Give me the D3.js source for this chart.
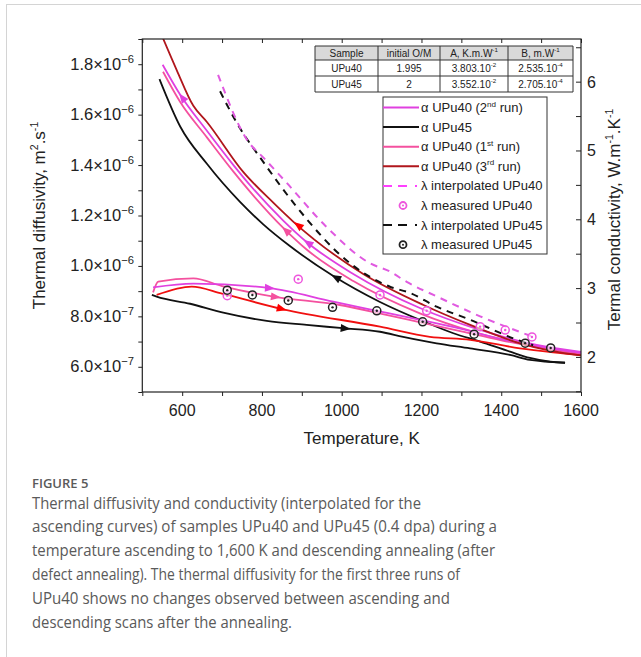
<!DOCTYPE html>
<html>
<head>
<meta charset="utf-8">
<script src="https://cdn.jsdelivr.net/npm/d3@7"></script>
<style>
  body { margin: 0; background: #fff; }
  svg { display: block; }
  .axis path, .axis line { stroke: #222; }
</style>
</head>
<body>
<svg id="chart" width="641" height="657"></svg>
<script>
// ---- data ----
// diffusivity branches [T (K), alpha (m2/s)]
var upu45Desc = [[543,17.41e-7],[595,15.53e-7],[662,14.05e-7],[745,12.54e-7],[804,11.64e-7],[870,10.79e-7],[979,9.6e-7],[1096,8.57e-7],[1205,7.8e-7],[1280,7.33e-7],[1347,7.0e-7],[1422,6.6e-7],[1472,6.35e-7],[1523,6.2e-7],[1560,6.16e-7]];
var upu45Asc = [[524,8.85e-7],[536,8.78e-7],[620,8.5e-7],[703,8.15e-7],[812,7.82e-7],[912,7.66e-7],[1003,7.53e-7],[1096,7.39e-7],[1154,7.19e-7],[1238,6.93e-7],[1322,6.73e-7],[1422,6.47e-7],[1472,6.27e-7],[1560,6.16e-7]];
var run3Desc = [[550,19.1e-7],[586,17.78e-7],[628,16.35e-7],[662,15.71e-7],[753,13.73e-7],[829,12.5e-7],[879,11.75e-7],[1054,9.68e-7],[1205,8.45e-7],[1322,7.66e-7],[1447,6.93e-7],[1590,6.47e-7],[1600,6.45e-7]];
var run3Asc = [[536,8.85e-7],[624,9.18e-7],[700,8.9e-7],[853,8.28e-7],[1096,7.59e-7],[1221,7.19e-7],[1322,7.07e-7],[1447,6.73e-7],[1590,6.47e-7],[1600,6.45e-7]];
var run2Desc = [[551,17.98e-7],[595,16.79e-7],[662,15.36e-7],[728,14.01e-7],[778,13.06e-7],[854,11.79e-7],[912,10.95e-7],[1029,9.68e-7],[1196,8.33e-7],[1339,7.5e-7],[1489,6.87e-7],[1600,6.59e-7]];
var run2Asc = [[527,9.15e-7],[628,9.3e-7],[820,9.12e-7],[979,8.58e-7],[1079,8.25e-7],[1200,7.85e-7],[1300,7.5e-7],[1400,7.1e-7],[1500,6.8e-7],[1600,6.55e-7]];
var run1Desc = [[552,17.7e-7],[595,16.5e-7],[662,15.1e-7],[728,13.75e-7],[778,12.8e-7],[854,11.5e-7],[912,10.65e-7],[1029,9.4e-7],[1196,8.12e-7],[1339,7.35e-7],[1489,6.8e-7],[1600,6.55e-7]];
var run1Asc = [[527,8.95e-7],[540,9.38e-7],[628,9.51e-7],[700,9.2e-7],[829,8.78e-7],[995,8.45e-7],[1100,8.1e-7],[1200,7.75e-7],[1300,7.4e-7],[1400,7.05e-7],[1500,6.75e-7],[1600,6.5e-7]];

// conductivity [T (K), lambda (W/m/K)]
var lamInterp40 = [[690,6.10],[762,5.16],[808,4.87],[862,4.53],[960,3.90],[1071,3.36],[1121,3.24],[1163,3.09],[1238,2.88],[1347,2.59],[1481,2.29]];
var lamInterp45 = [[695,5.86],[737,5.40],[805,4.82],[883,4.21],[1021,3.36],[1121,3.02],[1171,2.93],[1238,2.73],[1322,2.54],[1439,2.25],[1480,2.17]];
var lamMeas40 = [[713,2.89],[891,3.13],[1096,2.90],[1213,2.67],[1347,2.44],[1410,2.39],[1477,2.29]];
var lamMeas45 = [[713,2.97],[776,2.90],[866,2.82],[977,2.72],[1088,2.67],[1203,2.51],[1332,2.33],[1460,2.20],[1524,2.13]];

// tick values
var xTicks = d3.range(500, 1601, 100);
var xLabels = [600, 800, 1000, 1200, 1400, 1600];
var yLeftTicks = d3.range(5, 20).map(function(v){ return v*1e-7; });
var yLeftLabels = [6e-7, 8e-7, 1e-6, 1.2e-6, 1.4e-6, 1.6e-6, 1.8e-6];
var yRightTicks = d3.range(1.5, 6.6, 0.5);
var yRightLabels = [2, 3, 4, 5, 6];

// inset table
var tableHeader = ["Sample", "initial O/M", "A, K.m.W{-1}", "B, m.W{-1}"];
var tableRows = [["UPu40", "1.995", "3.803.10{-2}", "2.535.10{-4}"],
                 ["UPu45", "2", "3.552.10{-2}", "2.705.10{-4}"]];

var caption = [
  "Thermal diffusivity and conductivity (interpolated for the",
  "ascending curves) of samples UPu40 and UPu45 (0.4 dpa) during a",
  "temperature ascending to 1,600 K and descending annealing (after",
  "defect annealing). The thermal diffusivity for the first three runs of",
  "UPu40 shows no changes observed between ascending and",
  "descending scans after the annealing."
];
var captionWidths = [389, 465, 463, 428, 418, 260];

var cMag = "#e040e0", cPink = "#f4519f", cDark = "#b0161c", cRed = "#f01010", cBlack = "#111", cDash = "#e05ae0";

// ---- layout ----
var svg = d3.select("#chart");
var pLeft = 142.3, pRight = 581, pTop = 39, pBottom = 392;
var font = "'Liberation Sans', Arial, sans-serif";

var x = d3.scaleLinear().domain([500, 1600]).range([pLeft, pRight]);
var yL = d3.scaleLinear().domain([5e-7, 1.9e-6]).range([pBottom, pTop]);
var yR = d3.scaleLinear().domain([1.49, 6.62]).range([pBottom, pTop]);

// card border
svg.append("rect").attr("x", 6.5).attr("y", 4.5).attr("width", 700).attr("height", 700)
  .attr("fill", "none").attr("stroke", "#d4d4d4");

// text with {superscript} parts
function rich(sel, str, fs, k) {
  k = k || 0.62;
  var parts = str.split(/(\{[^}]*\})/).filter(function(s){ return s.length; });
  var shift = 0;
  parts.forEach(function(p) {
    if (p[0] === "{") {
      sel.append("tspan").attr("font-size", fs*k).attr("dy", -fs*0.42).text(p.slice(1, -1));
      shift = fs*0.42;
    } else {
      sel.append("tspan").attr("dy", shift).text(p);
      shift = 0;
    }
  });
}

svg.append("clipPath").attr("id", "plotclip").append("rect")
  .attr("x", pLeft).attr("y", pTop).attr("width", pRight-pLeft).attr("height", pBottom-pTop);
var plot = svg.append("g").attr("clip-path", "url(#plotclip)");

var lineA = d3.line().x(function(d){ return x(d[0]); }).y(function(d){ return yL(d[1]); }).curve(d3.curveMonotoneX);
var lineL = d3.line().x(function(d){ return x(d[0]); }).y(function(d){ return yR(d[1]); }).curve(d3.curveMonotoneX);

var alphaSeries = [
  {data: upu45Asc, color: cBlack}, {data: upu45Desc, color: cBlack},
  {data: run1Asc, color: cPink}, {data: run1Desc, color: cPink},
  {data: run2Asc, color: cMag}, {data: run2Desc, color: cMag},
  {data: run3Asc, color: cRed}, {data: run3Desc, color: cDark}
];
alphaSeries.forEach(function(s) {
  plot.append("path").attr("d", lineA(s.data)).attr("fill", "none")
    .attr("stroke", s.color).attr("stroke-width", 1.8).attr("stroke-linejoin", "round");
});

plot.append("path").attr("d", lineL(lamInterp45)).attr("fill", "none")
  .attr("stroke", cBlack).attr("stroke-width", 2).attr("stroke-dasharray", "7,6");
plot.append("path").attr("d", lineL(lamInterp40)).attr("fill", "none")
  .attr("stroke", cDash).attr("stroke-width", 2).attr("stroke-dasharray", "7,6");

// direction arrows along the curves
var arrowMarks = [
  {data: upu45Desc, t: 985, dir: -1, color: cBlack},
  {data: upu45Asc, t: 1010, dir: 1, color: cBlack},
  {data: run3Desc, t: 890, dir: -1, color: "#ff0000"},
  {data: run3Asc, t: 850, dir: 1, color: "#ff0000"},
  {data: run2Desc, t: 600, dir: -1, color: cMag},
  {data: run2Desc, t: 915, dir: -1, color: cMag},
  {data: run2Asc, t: 820, dir: 1, color: cMag},
  {data: run1Asc, t: 835, dir: 1, color: cPink},
  {data: run1Desc, t: 860, dir: -1, color: cPink}
];
arrowMarks.forEach(function(a) {
  var d = a.data, i = d3.bisector(function(p){ return p[0]; }).left(d, a.t);
  i = Math.max(1, Math.min(d.length-1, i));
  var p0 = [x(d[i-1][0]), yL(d[i-1][1])], p1 = [x(d[i][0]), yL(d[i][1])];
  var f = (a.t - d[i-1][0]) / (d[i][0] - d[i-1][0]);
  var px = p0[0] + f*(p1[0]-p0[0]), py = p0[1] + f*(p1[1]-p0[1]);
  var ang = Math.atan2(p1[1]-p0[1], p1[0]-p0[0]) * 180 / Math.PI + (a.dir < 0 ? 180 : 0);
  plot.append("path").attr("d", "M5,0L-5,-4L-5,4Z")
    .attr("transform", "translate(" + px + "," + py + ") rotate(" + ang + ")")
    .attr("fill", a.color);
});

function measured(g, data, color) {
  g.selectAll(null).data(data).enter().append("circle")
    .attr("cx", function(d){ return x(d[0]); }).attr("cy", function(d){ return yR(d[1]); })
    .attr("r", 4).attr("fill", "#fff").attr("fill-opacity", 0.6).attr("stroke", color).attr("stroke-width", 1.5);
  g.selectAll(null).data(data).enter().append("circle")
    .attr("cx", function(d){ return x(d[0]); }).attr("cy", function(d){ return yR(d[1]); })
    .attr("r", 1.2).attr("fill", color);
}
measured(plot, lamMeas40, "#ee55dd");
measured(plot, lamMeas45, "#222");

// frame
svg.append("rect").attr("x", pLeft).attr("y", pTop).attr("width", pRight-pLeft).attr("height", pBottom-pTop)
  .attr("fill", "none").attr("stroke", "#222").attr("stroke-width", 1.2);

// axes
svg.append("g").attr("class", "axis").attr("transform", "translate(0," + pBottom + ")")
  .call(d3.axisBottom(x).tickValues(xTicks).tickSize(4).tickSizeOuter(0).tickFormat(""));
svg.append("g").attr("class", "axis").attr("transform", "translate(0," + pTop + ")")
  .call(d3.axisTop(x).tickValues(xTicks).tickSize(-4).tickSizeOuter(0).tickFormat(""));
svg.append("g").attr("class", "axis").attr("transform", "translate(" + pLeft + ",0)")
  .call(d3.axisLeft(yL).tickValues(yLeftTicks).tickSize(4).tickSizeOuter(0).tickFormat(""));
svg.append("g").attr("class", "axis").attr("transform", "translate(" + pRight + ",0)")
  .call(d3.axisRight(yR).tickValues(yRightTicks).tickSize(-5).tickSizeOuter(0).tickFormat(""));
svg.selectAll(".axis .domain").remove();

xLabels.forEach(function(v) {
  svg.append("text").attr("x", x(v)).attr("y", pBottom + 24).attr("text-anchor", "middle")
    .attr("font-family", font).attr("font-size", 16).attr("fill", "#222").text(v);
});
yLeftLabels.forEach(function(v) {
  var e = Math.floor(Math.log10(v) + 1e-9), m = v / Math.pow(10, e);
  var t = svg.append("text").attr("x", 134).attr("y", yL(v) + 5.5).attr("text-anchor", "end")
    .attr("font-family", font).attr("font-size", 16.5).attr("fill", "#222");
  rich(t, m.toFixed(1) + "×10{\u2212" + (-e) + "}", 16.5, 0.68);
});
yRightLabels.forEach(function(v) {
  svg.append("text").attr("x", 587).attr("y", yR(v) + 6).attr("font-family", font)
    .attr("font-size", 16).attr("fill", "#222").text(v);
});

// axis titles
svg.append("text").attr("x", (pLeft+pRight)/2).attr("y", 444).attr("text-anchor", "middle")
  .attr("font-family", font).attr("font-size", 17).attr("fill", "#222").text("Temperature, K");
var tl = svg.append("text").attr("transform", "translate(45," + ((pTop+pBottom)/2) + ") rotate(-90)")
  .attr("text-anchor", "middle").attr("font-family", font).attr("font-size", 17).attr("fill", "#222");
rich(tl, "Thermal diffusivity, m{2}.s{-1}", 17);
var tr = svg.append("text").attr("transform", "translate(620," + ((pTop+pBottom)/2 + 4) + ") rotate(-90)")
  .attr("text-anchor", "middle").attr("font-family", font).attr("font-size", 17).attr("fill", "#222");
rich(tr, "Termal conductivity, W.m{-1}.K{-1}", 17);

// inset table
var colX = [315, 378, 440, 508, 573], rowY = [46, 60, 76, 92];
var tbl = svg.append("g").attr("font-family", font).attr("font-size", 10).attr("fill", "#222");
tbl.append("rect").attr("x", colX[0]).attr("y", rowY[0]).attr("width", colX[4]-colX[0]).attr("height", rowY[1]-rowY[0]).attr("fill", "#d9d9d9");
tbl.append("rect").attr("x", colX[0]).attr("y", rowY[1]).attr("width", colX[4]-colX[0]).attr("height", rowY[3]-rowY[1]).attr("fill", "#fff");
[tableHeader].concat(tableRows).forEach(function(row, r) {
  row.forEach(function(cell, c) {
    var t = tbl.append("text").attr("x", (colX[c]+colX[c+1])/2).attr("y", (rowY[r]+rowY[r+1])/2 + 3.5)
      .attr("text-anchor", "middle");
    rich(t, cell, 10);
  });
});
rowY.forEach(function(y) {
  tbl.append("line").attr("x1", colX[0]).attr("x2", colX[4]).attr("y1", y).attr("y2", y).attr("stroke", "#333");
});
colX.forEach(function(cx) {
  tbl.append("line").attr("x1", cx).attr("x2", cx).attr("y1", rowY[0]).attr("y2", rowY[3]).attr("stroke", "#333");
});

// legend
var legendItems = [
  {label: "α UPu40 (2{nd} run)", color: cMag, type: "line"},
  {label: "α UPu45", color: cBlack, type: "line"},
  {label: "α UPu40 (1{st} run)", color: cPink, type: "line"},
  {label: "α UPu40 (3{rd} run)", color: cDark, type: "line"},
  {label: "λ interpolated UPu40", color: "#ff40ff", type: "dash"},
  {label: "λ measured UPu40", color: "#ee55dd", type: "circle"},
  {label: "λ interpolated UPu45", color: cBlack, type: "dash"},
  {label: "λ measured UPu45", color: "#222", type: "circle"}
];
var lg = svg.append("g").attr("font-family", font).attr("font-size", 13).attr("fill", "#222");
lg.append("rect").attr("x", 383).attr("y", 97).attr("width", 164).attr("height", 157)
  .attr("fill", "#fff").attr("stroke", "#333");
legendItems.forEach(function(it, i) {
  var y = 107.5 + i*19.6;
  if (it.type === "circle") {
    lg.append("circle").attr("cx", 403).attr("cy", y).attr("r", 3.5).attr("fill", "none")
      .attr("stroke", it.color).attr("stroke-width", 1.8);
    lg.append("circle").attr("cx", 403).attr("cy", y).attr("r", 1).attr("fill", it.color);
  } else {
    lg.append("line").attr("x1", 383).attr("x2", 419).attr("y1", y).attr("y2", y)
      .attr("stroke", it.color).attr("stroke-width", 2)
      .attr("stroke-dasharray", it.type === "dash" ? "9,6,9,8,2,10" : null);
  }
  var t = lg.append("text").attr("x", 421).attr("y", y + 4.5);
  rich(t, it.label, 13);
});

// caption
svg.append("text").attr("x", 32).attr("y", 488).attr("font-family", "'Open Sans', 'Noto Sans', sans-serif")
  .attr("font-size", 13).attr("font-weight", 600).attr("fill", "#5a5a5a").text("FIGURE 5");
caption.forEach(function(line, i) {
  svg.append("text").attr("x", 32).attr("y", 508.5 + i*23.8)
    .attr("font-family", "'Open Sans', 'Noto Sans', sans-serif").attr("font-size", 16.5)
    .attr("fill", "#5a5a5a").attr("textLength", captionWidths[i]).attr("lengthAdjust", "spacingAndGlyphs")
    .text(line);
});
</script>
</body>
</html>
